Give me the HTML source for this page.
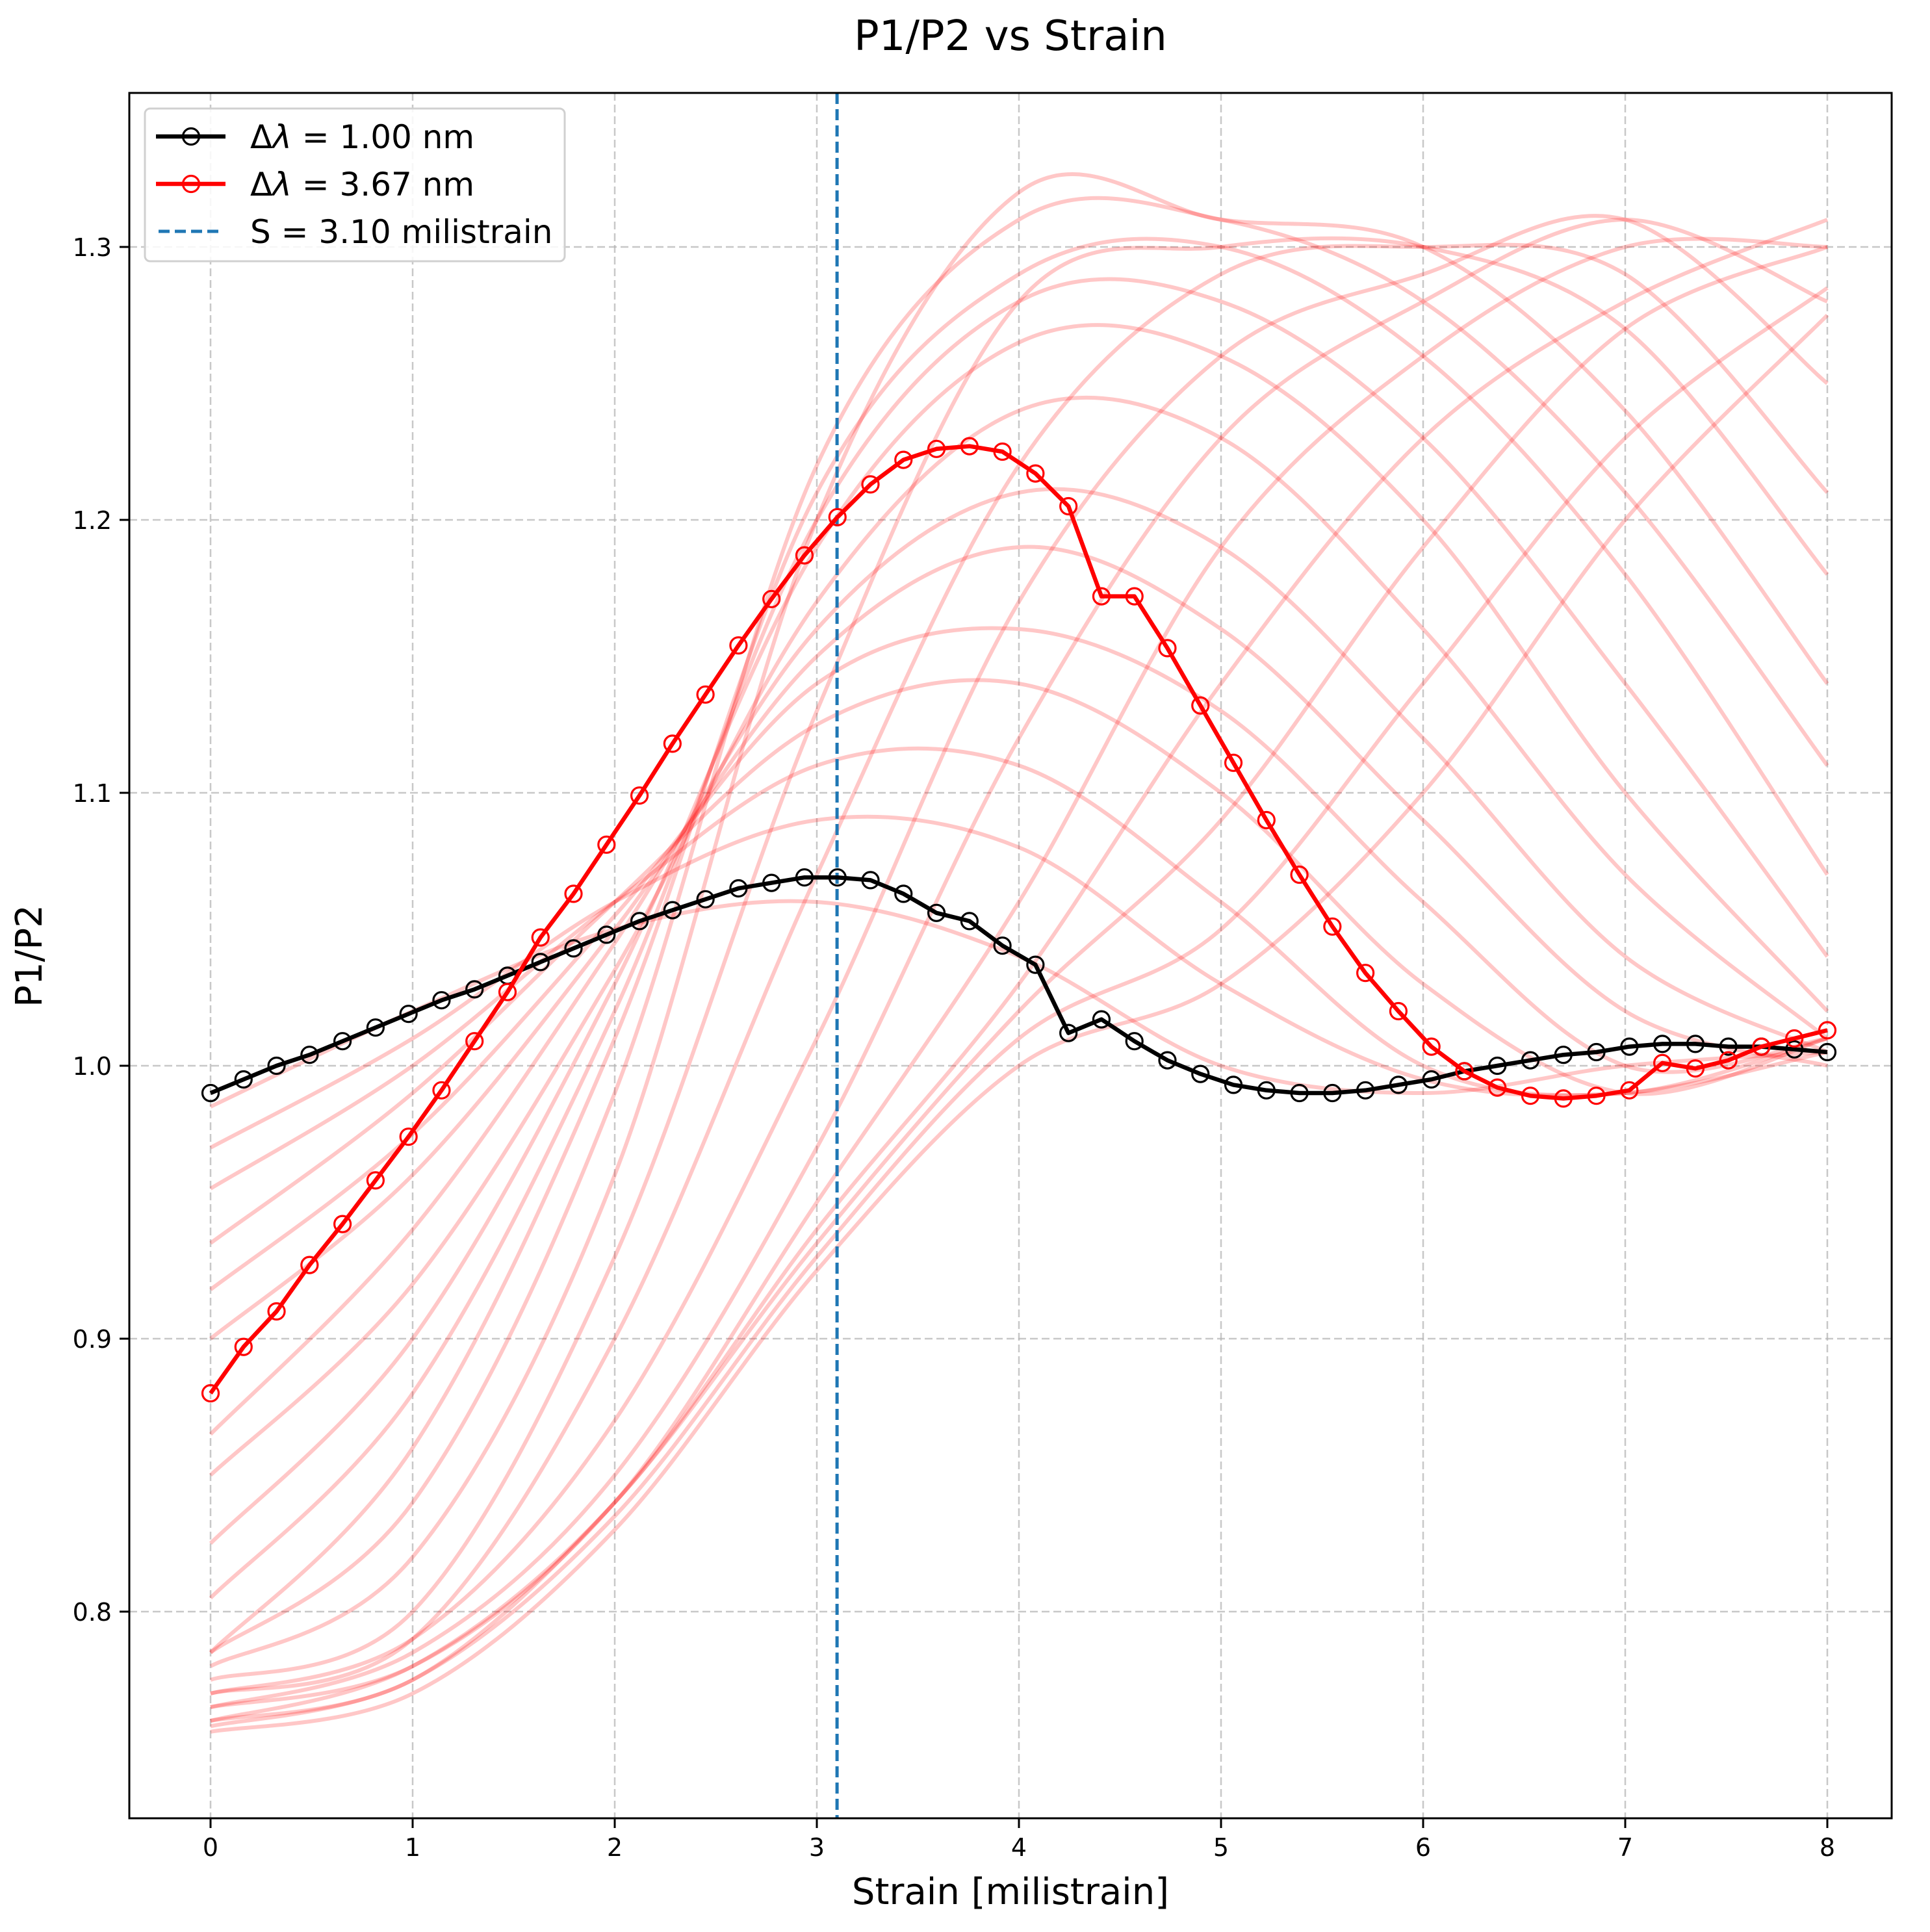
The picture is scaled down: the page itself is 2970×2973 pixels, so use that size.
<!DOCTYPE html>
<html><head><meta charset="utf-8"><style>
html,body{margin:0;padding:0;background:#fff;}
svg{display:block;font-family:"DejaVu Sans","Liberation Sans",sans-serif;}
</style></head><body>
<svg id="chart" width="2970" height="2973" viewBox="0 0 2970 2973" xmlns="http://www.w3.org/2000/svg">
<rect x="0" y="0" width="2970" height="2973" fill="#fff"/>
<g id="grid"></g>
<g id="faint"></g>
<g id="main"></g>
<rect x="199" y="143" width="2712" height="2655" fill="none" stroke="#000" stroke-width="3"/>
<g id="ticks"></g>
<text x="1555" y="77" text-anchor="middle" font-size="64">P1/P2 vs Strain</text>
<text x="1555" y="2930" text-anchor="middle" font-size="56">Strain [milistrain]</text>
<text x="0" y="0" transform="translate(64,1471) rotate(-90)" text-anchor="middle" font-size="56">P1/P2</text>
<g>
<rect x="223" y="167" width="646" height="235" rx="8" fill="#fff" fill-opacity="0.85" stroke="#d0d0d0" stroke-width="3"/>
<g>
<line x1="240" y1="210" x2="347" y2="210" stroke="#000" stroke-width="6.5"/>
<circle cx="294" cy="210" r="12.5" fill="none" stroke="#000" stroke-width="3.2"/>
<text x="385" y="228" font-size="50">Δ<tspan font-style="italic">λ</tspan> = 1.00 nm</text></g>
<g>
<line x1="240" y1="283" x2="347" y2="283" stroke="#f00" stroke-width="6.5"/>
<circle cx="294" cy="283" r="12.5" fill="none" stroke="#f00" stroke-width="3.2"/>
<text x="385" y="301" font-size="50">Δ<tspan font-style="italic">λ</tspan> = 3.67 nm</text></g>
<g>
<line x1="244" y1="356" x2="344" y2="356" stroke="#1f77b4" stroke-width="5" stroke-dasharray="17,8"/>
<text x="385" y="374" font-size="50">S = 3.10 milistrain</text></g>
</g>
</svg>
<script>
const xTicks=[0,1,2,3,4,5,6,7,8];
const yTicks=[0.8,0.9,1.0,1.1,1.2,1.3];
const yTickLabels=["0.8","0.9","1.0","1.1","1.2","1.3"];
const threshold=3.10;
const blackVals=[0.990,0.995,1.000,1.004,1.009,1.014,1.019,1.024,1.028,1.033,1.038,1.043,1.048,1.053,1.057,1.061,1.065,1.067,1.069,1.069,1.068,1.063,1.056,1.053,1.044,1.037,1.012,1.017,1.009,1.002,0.997,0.993,0.991,0.990,0.990,0.991,0.993,0.995,0.998,1.000,1.002,1.004,1.005,1.007,1.008,1.008,1.007,1.007,1.006,1.005];
const redVals=[0.880,0.897,0.910,0.927,0.942,0.958,0.974,0.991,1.009,1.027,1.047,1.063,1.081,1.099,1.118,1.136,1.154,1.171,1.187,1.201,1.213,1.222,1.226,1.227,1.225,1.217,1.205,1.172,1.172,1.153,1.132,1.111,1.090,1.070,1.051,1.034,1.020,1.007,0.998,0.992,0.989,0.988,0.989,0.991,1.001,0.999,1.002,1.007,1.010,1.013];
const faintX=[0,1,2,3,4,5,6,7,8];
const faintCurves=[
[0.985,1.02,1.05,1.06,1.04,1.00,0.99,1.0,1.005],
[0.97,1.01,1.06,1.09,1.08,1.03,0.995,0.99,1.005],
[0.955,1.0,1.06,1.11,1.11,1.06,1.0,0.99,1.01],
[0.935,0.99,1.06,1.125,1.14,1.10,1.03,0.99,1.01],
[0.918,0.975,1.055,1.14,1.16,1.13,1.06,1.0,1.01],
[0.90,0.96,1.05,1.15,1.19,1.16,1.09,1.02,1.0],
[0.865,0.94,1.045,1.16,1.21,1.19,1.12,1.04,1.005],
[0.85,0.92,1.035,1.17,1.24,1.23,1.16,1.07,1.01],
[0.825,0.90,1.03,1.19,1.265,1.26,1.20,1.10,1.02],
[0.805,0.88,1.02,1.20,1.28,1.28,1.23,1.14,1.04],
[0.785,0.86,1.01,1.21,1.29,1.30,1.26,1.18,1.07],
[0.785,0.84,0.99,1.22,1.31,1.31,1.28,1.21,1.11],
[0.78,0.82,0.96,1.20,1.32,1.31,1.30,1.24,1.14],
[0.775,0.80,0.93,1.13,1.28,1.30,1.30,1.27,1.18],
[0.77,0.79,0.90,1.07,1.22,1.29,1.30,1.29,1.21],
[0.77,0.79,0.87,1.01,1.17,1.26,1.29,1.31,1.25],
[0.765,0.785,0.85,0.97,1.12,1.23,1.28,1.31,1.28],
[0.765,0.78,0.84,0.95,1.06,1.19,1.26,1.30,1.30],
[0.76,0.78,0.84,0.94,1.03,1.14,1.23,1.28,1.31],
[0.76,0.775,0.84,0.935,1.02,1.09,1.19,1.27,1.30],
[0.758,0.775,0.835,0.93,1.01,1.05,1.14,1.23,1.285],
[0.756,0.77,0.83,0.925,1.0,1.03,1.10,1.20,1.275]
];
const NS="http://www.w3.org/2000/svg";
const X0=324,XS=311,Y0=1640,YS=4200;
function sx(v){return X0+v*XS;}
function sy(v){return Y0-(v-1)*YS;}
function mk(tag,attrs,parent){const e=document.createElementNS(NS,tag);for(const k in attrs)e.setAttribute(k,attrs[k]);parent.appendChild(e);return e;}
const grid=document.getElementById('grid'),ticks=document.getElementById('ticks');
xTicks.forEach(t=>{
  const g=mk('line',{x1:sx(t),x2:sx(t),y1:143,y2:2798,stroke:'#b0b0b0','stroke-opacity':0.7,'stroke-width':2.5,'stroke-dasharray':'12,6'},grid);
  
  
  const tk=mk('line',{x1:sx(t),x2:sx(t),y1:2798,y2:2813,stroke:'#000','stroke-width':3},ticks);
  
  
  const tl=mk('text',{x:sx(t),y:2856,'text-anchor':'middle','font-size':38},ticks);
  tl.textContent=String(t);
  
  
});
yTicks.forEach((t,i)=>{
  const g=mk('line',{x1:199,x2:2911,y1:sy(t),y2:sy(t),stroke:'#b0b0b0','stroke-opacity':0.7,'stroke-width':2.5,'stroke-dasharray':'12,6'},grid);
  
  
  const tk=mk('line',{x1:184,x2:199,y1:sy(t),y2:sy(t),stroke:'#000','stroke-width':3},ticks);
  
  
  const tl=mk('text',{x:172,y:sy(t)+14,'text-anchor':'end','font-size':38},ticks);
  tl.textContent=yTickLabels[i];
  
  
});
function smoothPath(pts){
  let d='M'+pts[0][0]+','+pts[0][1];
  for(let i=0;i<pts.length-1;i++){
    const p0=pts[i-1]||pts[i],p1=pts[i],p2=pts[i+1],p3=pts[i+2]||p2;
    const c1=[p1[0]+(p2[0]-p0[0])/6,p1[1]+(p2[1]-p0[1])/6];
    const c2=[p2[0]-(p3[0]-p1[0])/6,p2[1]-(p3[1]-p1[1])/6];
    d+=' C'+c1[0]+','+c1[1]+' '+c2[0]+','+c2[1]+' '+p2[0]+','+p2[1];
  }
  return d;
}
const faint=document.getElementById('faint');
faintCurves.forEach(c=>{
  const pts=c.map((v,i)=>[sx(faintX[i]),sy(v)]);
  const p=mk('path',{d:smoothPath(pts),fill:'none',stroke:'#f00','stroke-opacity':0.22,'stroke-width':6},faint);
  
  
});
const main=document.getElementById('main');
const vl=mk('line',{x1:sx(threshold),x2:sx(threshold),y1:143,y2:2798,stroke:'#1f77b4','stroke-width':5,'stroke-dasharray':'17,8'},main);


function series(vals,color,name){
  const n=vals.length;
  const pts=vals.map((v,i)=>sx(8*i/(n-1))+','+sy(v)).join(' ');
  const pl=mk('polyline',{points:pts,fill:'none',stroke:color,'stroke-width':6.5,'stroke-linejoin':'round'},main);
  
  
  vals.forEach((v,i)=>{
    const c=mk('circle',{cx:sx(8*i/(n-1)),cy:sy(v),r:12.5,fill:'none',stroke:color,'stroke-width':3.2},main);
    
    
  });
}
series(blackVals,'#000','black-series');
series(redVals,'#f00','red-series');
</script>
</body></html>
